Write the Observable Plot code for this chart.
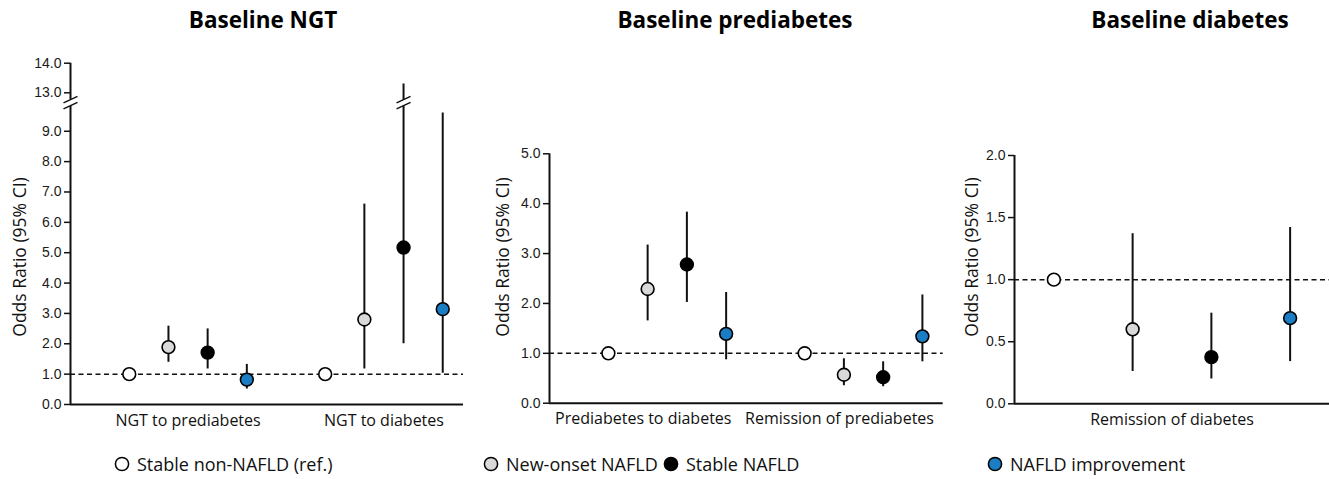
<!DOCTYPE html>
<html>
<head>
<meta charset="utf-8">
<script src="https://cdn.jsdelivr.net/npm/d3@7"></script>
<script src="https://cdn.jsdelivr.net/npm/@observablehq/plot@0.6"></script>
<style>
  body { margin: 0; background: #fff; }
  #chart { position: relative; width: 1329px; height: 479px; overflow: hidden; background: #fff; }
  .panel { position: absolute; top: 0; }
  .title { position: absolute; top: 6px; transform: translateX(-50%); white-space: nowrap;
           font: bold 22.5px "Open Sans", sans-serif; line-height: 1.2; color: #000; }
  .ylab { position: absolute; white-space: nowrap; font: 17.5px "Open Sans", sans-serif; color: #111;
          transform: translate(-50%, -50%) rotate(-90deg); line-height: 1; }
  .legend { position: absolute; top: 452px; height: 24px; display: flex; align-items: center;
            font: 18px "Open Sans", sans-serif; color: #111; white-space: nowrap; }
  .legend svg { margin-right: 7px; }
</style>
</head>
<body>
<div id="chart"></div>
<script>
// ---------- data ----------
const series = ["Stable non-NAFLD (ref.)", "New-onset NAFLD", "Stable NAFLD", "NAFLD improvement"];

// Baseline NGT
const ngtGroups = ["NGT to prediabetes", "NGT to diabetes"];
const ngtOR = [[1.0, 1.89, 1.71, 0.82], [1.0, 2.80, 5.17, 3.14]];
const ngtLo = [[null, 1.39, 1.17, 0.51], [null, 1.17, 2.00, 1.03]];
const ngtHi = [[null, 2.58, 2.49, 1.32], [null, 6.60, 13.3, 9.60]];
const ngtTicks = [0, 1, 2, 3, 4, 5, 6, 7, 8, 9, 13, 14];

// Baseline prediabetes
const preGroups = ["Prediabetes to diabetes", "Remission of prediabetes"];
const preOR = [[1.0, 2.29, 2.78, 1.39], [1.0, 0.57, 0.52, 1.34]];
const preLo = [[null, 1.65, 2.02, 0.87], [null, 0.35, 0.33, 0.83]];
const preHi = [[null, 3.17, 3.83, 2.22], [null, 0.89, 0.83, 2.17]];
const preTicks = [0, 1, 2, 3, 4, 5];

// Baseline diabetes
const diaGroups = ["Remission of diabetes"];
const diaOR = [[1.0, 0.60, 0.376, 0.69]];
const diaLo = [[null, 0.26, 0.20, 0.34]];
const diaHi = [[null, 1.37, 0.73, 1.42]];
const diaTicks = [0, 0.5, 1.0, 1.5, 2.0];

// ---------- styles ----------
const fills = ["#ffffff", "#d9d9d9", "#000000", "#1b7dc4"];
const ink = "#111";
const fmt = d3.format(".1f");
const chart = document.getElementById("chart");

// rows: position index = group*stride + series (one empty slot between groups)
function rows(groups, or, lo, hi, stride) {
  const out = [];
  groups.forEach((g, gi) => series.forEach((s, si) => {
    out.push({group: g, series: s, si, pos: gi * stride + si, or: or[gi][si], lo: lo[gi][si], hi: hi[gi][si]});
  }));
  return out;
}

// break-mark symbols for the broken axis
const breakWhite = {draw(ctx) { ctx.moveTo(-8, 0.8); ctx.lineTo(8, -6.8); ctx.lineTo(8, -0.8); ctx.lineTo(-8, 6.8); ctx.closePath(); }};
const breakLines = {draw(ctx) { ctx.moveTo(-7, 0.3); ctx.lineTo(7, -6.3); ctx.moveTo(-7, 6.3); ctx.lineTo(7, -0.3); }};

function panel({left, width, marginLeft, marginRight, marginTop, marginBottom, x0, x1, yOpts, ticks, tickFormat = fmt, data, groups, stride, labelDx, axisLine, extra = []}) {
  const ciRows = data.filter(d => d.lo != null);
  const labels = groups.map((g, i) => ({g, pos: i * stride + 1.5}));
  const p = Plot.plot({
    width, height: 440, marginLeft, marginRight, marginTop, marginBottom,
    style: {fontFamily: "'Liberation Sans', Arial, sans-serif", fontSize: "14px", color: ink, background: "transparent", overflow: "visible"},
    x: {domain: [x0, x1], axis: null},
    y: {...yOpts, axis: null},
    marks: [
      Plot.ruleY([1], {stroke: ink, strokeWidth: 1.5, strokeDasharray: "5,3.5"}),
      ...(axisLine ? axisLine : [Plot.ruleX([x0], {stroke: ink, strokeWidth: 2})]),
      Plot.ruleY([0], {stroke: ink, strokeWidth: 2}),
      Plot.axisY({ticks, tickSize: 6, tickPadding: 3, tickFormat, label: null, strokeWidth: 1.5, fill: "#1a1a1a"}),
      Plot.ruleX(ciRows, {x: "pos", y1: "lo", y2: "hi", stroke: ink, strokeWidth: 2}),
      ...extra,
      Plot.dot(data, {x: "pos", y: "or", r: 6.4, fill: d => fills[d.si], stroke: "#000", strokeWidth: 1.6}),
      Plot.text(labels, {x: "pos", text: "g", frameAnchor: "bottom", dy: 21, dx: labelDx,
        fontFamily: "'Open Sans', sans-serif", fontSize: 16, fill: ink})
    ]
  });
  p.classList.add("panel");
  p.style.left = left + "px";
  chart.appendChild(p);
}

// Panel 1: Baseline NGT (broken y axis via a piecewise scale transform)
const lowTop = 9.845, highBottom = 12.77, gapUnits = 0.1976, upperRatio = 0.975;
const brk = v => v <= lowTop ? v
  : v >= highBottom ? lowTop + gapUnits + (v - highBottom) * upperRatio
  : lowTop + (v - lowTop) / (highBottom - lowTop) * gapUnits;
const breakMid = (lowTop + highBottom) / 2;
// axis ticks are placed in the transformed space and labelled with the original value
const ngtTickPos = ngtTicks.map(brk);
const ngtTickLabel = new Map(ngtTicks.map(t => [brk(t), fmt(t)]));
const ngtData = rows(ngtGroups, ngtOR, ngtLo, ngtHi, 5);
const breakPts = [{pos: -1.5}, ...ngtData.filter(d => d.hi != null && d.hi > highBottom)];
panel({
  left: 0, width: 470, marginLeft: 70, marginRight: 7, marginTop: 62.7, marginBottom: 36, x0: -1.5, x1: 8.53,
  yOpts: {transform: brk, domain: [0, brk(14)]},
  ticks: ngtTickPos, tickFormat: v => ngtTickLabel.get(v), data: ngtData, groups: ngtGroups, stride: 5, labelDx: 0,
  axisLine: [
    Plot.ruleX([-1.5], {y1: 0, y2: lowTop, stroke: ink, strokeWidth: 2}),
    Plot.ruleX([-1.5], {y1: highBottom, y2: 14, stroke: ink, strokeWidth: 2})
  ],
  extra: [
    Plot.dot(breakPts, {x: "pos", y: () => breakMid, symbol: breakWhite, fill: "#fff", stroke: "none"}),
    Plot.dot(breakPts, {x: "pos", y: () => breakMid, symbol: breakLines, fill: "none", stroke: ink, strokeWidth: 1.5})
  ]
});

// Panel 2: Baseline prediabetes
panel({
  left: 470, width: 475, marginLeft: 79, marginRight: 2.3, marginTop: 153.3, marginBottom: 37.3, x0: -1.5, x1: 8.53,
  yOpts: {domain: [0, 5]},
  ticks: preTicks, data: rows(preGroups, preOR, preLo, preHi, 5), groups: preGroups, stride: 5, labelDx: -24
});

// Panel 3: Baseline diabetes
panel({
  left: 945, width: 384, marginLeft: 69, marginRight: 0, marginTop: 155, marginBottom: 36.7, x0: -0.5, x1: 3.5,
  yOpts: {domain: [0, 2]},
  ticks: diaTicks, data: rows(diaGroups, diaOR, diaLo, diaHi, 4), groups: diaGroups, stride: 4, labelDx: 0
});

// titles
[["Baseline NGT", 263], ["Baseline prediabetes", 735], ["Baseline diabetes", 1190]].forEach(([t, x]) => {
  const d = document.createElement("div");
  d.className = "title"; d.textContent = t; d.style.left = x + "px";
  chart.appendChild(d);
});
// y-axis titles
[20, 503, 972].forEach(x => {
  const d = document.createElement("div");
  d.className = "ylab"; d.textContent = "Odds Ratio (95% CI)";
  d.style.left = x + "px"; d.style.top = "257px";
  chart.appendChild(d);
});
// legend
const legendX = [114, 483, 663, 987];
series.forEach((s, i) => {
  const item = document.createElement("div");
  item.className = "legend";
  item.style.left = legendX[i] + "px";
  item.innerHTML = `<svg width="16" height="16"><circle cx="8" cy="8" r="6.6" fill="${fills[i]}" stroke="#000" stroke-width="1.5"/></svg>`;
  item.appendChild(document.createTextNode(s));
  chart.appendChild(item);
});
</script>
</body>
</html>
